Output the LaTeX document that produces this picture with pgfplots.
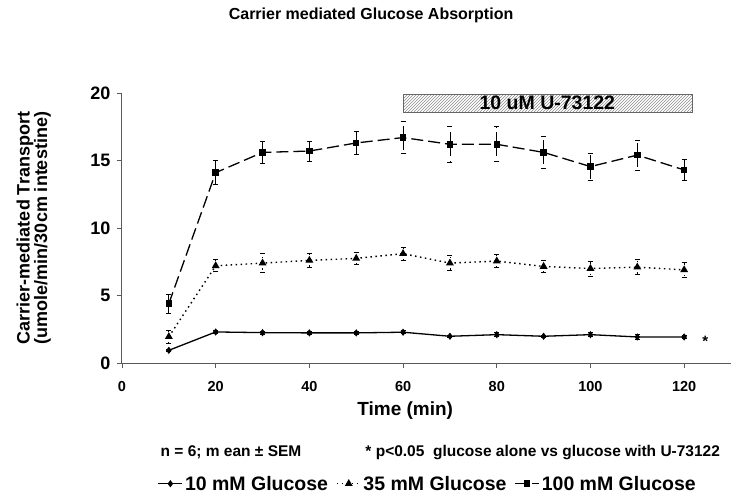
\documentclass[border=0pt]{standalone}
\usepackage{fontspec}
\setmainfont{Liberation Sans}
\usepackage{pgfplots}
\pgfplotsset{compat=1.18}
\usetikzlibrary{patterns}

% glucose absorption, values: x, y, sem
\pgfplotstableread{
x   y     e
10  0.94  0.08
20  2.30  0.10
30  2.25  0.10
40  2.23  0.08
50  2.23  0.08
60  2.28  0.10
70  1.98  0.10
80  2.10  0.15
90  1.98  0.10
100 2.10  0.15
110 1.93  0.20
120 1.93  0.10
}\lowglc
\pgfplotstableread{
x   y     e
10  1.95  0.50
20  7.20  0.45
30  7.40  0.70
40  7.60  0.50
50  7.75  0.45
60  8.10  0.50
70  7.40  0.55
80  7.55  0.50
90  7.15  0.45
100 7.00  0.55
110 7.10  0.55
120 6.90  0.55
}\midglc
\pgfplotstableread{
x   y     e
10  4.40  0.70
20  14.10 0.90
30  15.60 0.85
40  15.70 0.75
50  16.30 0.85
60  16.70 1.20
70  16.20 1.35
80  16.20 1.30
90  15.60 1.20
100 14.55 1.00
110 15.40 1.10
120 14.30 0.80
}\highglc

\begin{document}
\begin{tikzpicture}[x=1pt,y=1pt]
\begin{axis}[
    scale only axis,
    width=609pt, height=270pt,
    xmin=0, xmax=130, ymin=0, ymax=20,
    xtick={0,20,...,120}, ytick={0,5,...,20},
    axis lines=left,
    axis line style={-, draw=black!65, line width=1pt},
    tick style={draw=black!65, line width=0.8pt},
    tick align=outside,
    major tick length=5pt,
    /pgf/number format/assume math mode=true,
    xticklabel style={font=\fontsize{14.5}{16}\selectfont\bfseries, yshift=-10pt},
    yticklabel style={font=\fontsize{18}{20}\selectfont\bfseries, xshift=-3pt},
    xlabel={Time (min)},
    xlabel style={font=\fontsize{19}{21}\selectfont\bfseries, at={(axis description cs:0.465,-0.176)}, anchor=center},
    ylabel={Carrier-mediated Transport\\(umole/min/30cm intestine)},
    ylabel style={font=\fontsize{18}{17.5}\selectfont\bfseries, align=center, at={(axis description cs:-0.145,0.5)}, anchor=center},
    clip=false,
    legend columns=3,
    legend style={draw=none, fill=none, font=\fontsize{19.5}{21}\selectfont\bfseries,
        at={(axis description cs:0.502,-0.447)}, anchor=center,
        /tikz/every odd column/.append style={column sep=0pt},
        /tikz/every even column/.append style={column sep=6pt}},
    legend image code/.code={
        \draw[mark repeat=2, mark phase=2] plot coordinates {(0pt,0pt) (12pt,0pt) (24pt,0pt)};},
    error bars/y dir=both,
    error bars/y explicit,
    error bars/error bar style={black, line width=0.8pt},
    error bars/error mark options={rotate=90, mark size=2.5pt, line width=0.8pt},
]
\coordinate (bl) at (axis description cs:0,0);

% hatched bar for U-73122 period
\draw[pattern=north east lines, pattern color=black!45, draw=black!60, line width=0.8pt]
    (axis cs:60,18.6) rectangle (axis cs:121.7,19.9);
\node[font=\fontsize{19.5}{21}\selectfont\bfseries] at (axis cs:90.8,19.25) {10 uM U-73122};

\addplot[black, line width=1.3pt, mark=diamond*, mark size=2.6pt]
    table[x=x, y=y, y error=e] {\lowglc};
\addplot[black, line width=1.4pt, dash pattern=on 1.5pt off 3.5pt, mark=triangle*, mark size=3.2pt, mark options={solid}]
    table[x=x, y=y, y error=e] {\midglc};
\addplot[black, line width=1.3pt, dash pattern=on 12pt off 5pt, mark=square*, mark size=2.6pt, mark options={solid}]
    table[x=x, y=y, y error=e] {\highglc};
\legend{10 mM Glucose, 35 mM Glucose, 100 mM Glucose}

\node[font=\fontsize{15}{17}\selectfont\bfseries] at (axis cs:124.5,1.6) {*};

\node[font=\fontsize{16}{18}\selectfont\bfseries] at (axis description cs:0.409,1.289) {Carrier mediated Glucose Absorption};
\node[font=\fontsize{15.5}{17}\selectfont\bfseries] at (axis description cs:0.179,-0.33) {n = 6; m ean ± SEM};
\node[font=\fontsize{15.5}{17}\selectfont\bfseries, anchor=west] at (axis description cs:0.394,-0.33) {* p<0.05\ \ glucose alone vs glucose with U-73122};
\end{axis}
\pgfresetboundingbox
\path (bl) ++(-122pt,-133pt) rectangle ++(750pt,496pt);
\end{tikzpicture}
\end{document}
